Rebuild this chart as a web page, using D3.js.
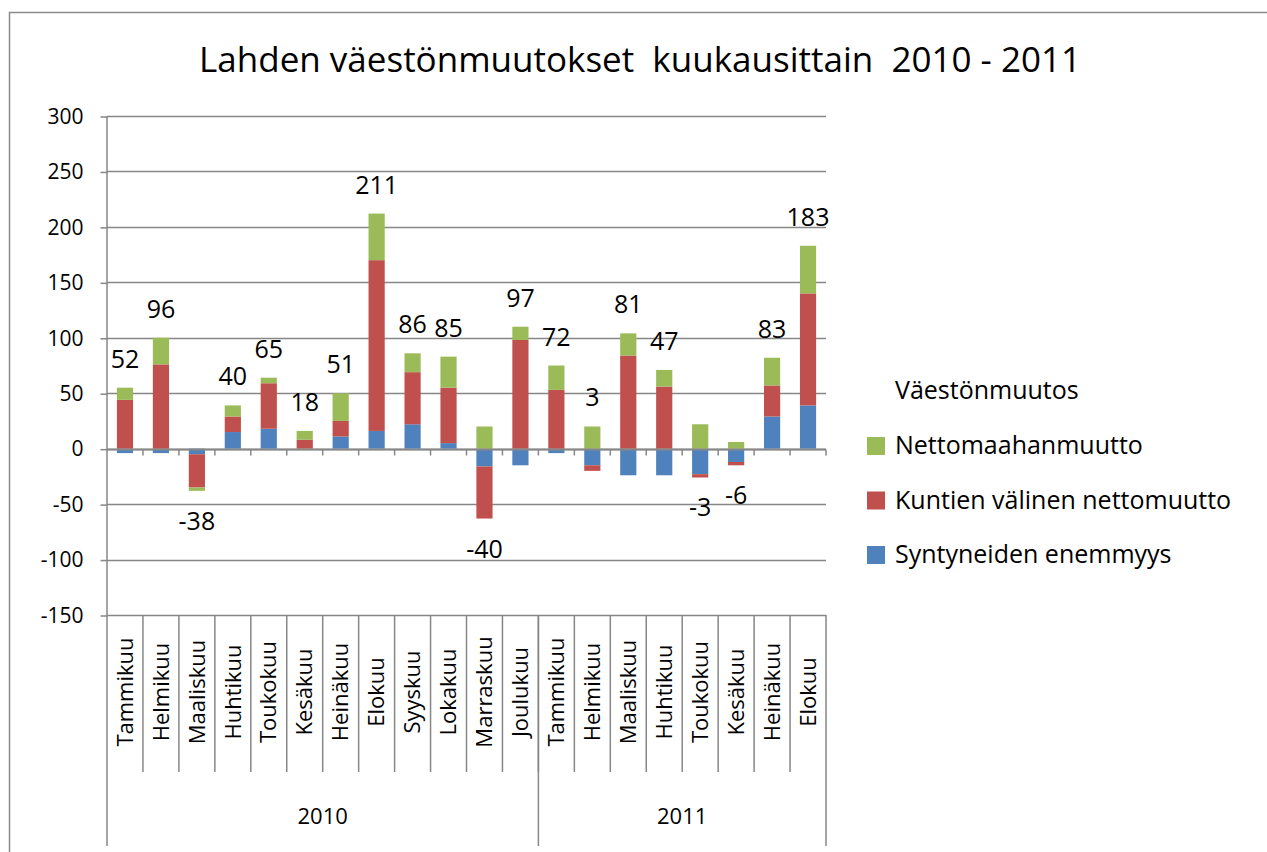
<!DOCTYPE html>
<html>
<head>
<meta charset="utf-8">
<script src="https://cdn.jsdelivr.net/npm/d3@7"></script>
<style>
  html, body { margin: 0; padding: 0; background: #fff; }
  svg { display: block; font-family: "Open Sans", sans-serif; }
  text { fill: #000; }
</style>
</head>
<body>
<svg id="chart" width="1267" height="852"></svg>
<script>
// Data
var months = ['Tammikuu', 'Helmikuu', 'Maaliskuu', 'Huhtikuu', 'Toukokuu', 'Kesäkuu',
              'Heinäkuu', 'Elokuu', 'Syyskuu', 'Lokakuu', 'Marraskuu', 'Joulukuu',
              'Tammikuu', 'Helmikuu', 'Maaliskuu', 'Huhtikuu', 'Toukokuu', 'Kesäkuu',
              'Heinäkuu', 'Elokuu'];
var years = [{ label: '2010', count: 12 }, { label: '2011', count: 8 }];

var syntyneet = [-4, -4, -5, 15, 18, 0, 11, 16, 22, 5, -16, -15, -4, -15, -24, -24, -23, -12, 29, 39];
var kuntienValinen = [44, 76, -30, 14, 41, 8, 14, 154, 47, 50, -47, 98, 53, -5, 84, 56, -3, -3, 28, 101];
var nettomaahanmuutto = [11, 24, -3, 10, 5, 8, 25, 42, 17, 28, 20, 12, 22, 20, 20, 15, 22, 6, 25, 43];
var totals = [52, 96, -38, 40, 65, 18, 51, 211, 86, 85, -40, 97, 72, 3, 81, 47, -3, -6, 83, 183];

var yTicks = [-150, -100, -50, 0, 50, 100, 150, 200, 250, 300];

var SERIES = [
    { key: 'syn', name: 'Syntyneiden enemmyys', color: '#4F81BD', values: syntyneet },
    { key: 'kun', name: 'Kuntien välinen nettomuutto', color: '#C0504D', values: kuntienValinen },
    { key: 'net', name: 'Nettomaahanmuutto', color: '#9BBB59', values: nettomaahanmuutto }
];

var AXIS_COLOR = '#878787';
var svg = d3.select('#chart');

// outer frame (left and top edges visible)
svg.append('path')
    .attr('d', 'M9.5,852 L9.5,12.5 L1267,12.5')
    .attr('fill', 'none').attr('stroke', '#8a8a8a').attr('stroke-width', 1.5);

// title
svg.append('text')
    .attr('x', 640).attr('y', 72)
    .attr('text-anchor', 'middle')
    .style('font-size', '35px')
    .style('white-space', 'pre')
    .text('Lahden väestönmuutokset  kuukausittain  2010 - 2011');

// scales
var plot = { left: 107, right: 826, top: 116, bottom: 615 };
var idx = months.map(function(m, i) { return i; });
var x = d3.scaleBand().domain(idx).range([plot.left, plot.right]).padding(0);
var y = d3.scaleLinear().domain([-150, 300]).range([plot.bottom, plot.top]);
var barW = x.bandwidth() * 0.45;

// gridlines
svg.append('g').selectAll('line').data(yTicks).enter().append('line')
    .attr('x1', plot.left).attr('x2', plot.right)
    .attr('y1', function(d) { return Math.round(y(d)) + 0.5; })
    .attr('y2', function(d) { return Math.round(y(d)) + 0.5; })
    .attr('stroke', AXIS_COLOR).attr('stroke-width', 1.5);

// y axis (plain hyphen minus like the original)
var yAxis = svg.append('g')
    .attr('transform', 'translate(' + (plot.left + 0.5) + ',0.5)')
    .call(d3.axisLeft(y).tickValues(yTicks).tickSize(7).tickPadding(17)
        .tickFormat(function(d) { return String(d); }));
yAxis.select('.domain').remove();
yAxis.selectAll('line').attr('stroke', AXIS_COLOR).attr('stroke-width', 1.5);
yAxis.selectAll('text')
    .style('font-family', '"Open Sans", sans-serif')
    .style('font-size', '21px').attr('fill', '#000');

// stacked bars (positive up, negative down, like Excel)
var table = idx.map(function(i) {
    var row = { i: i };
    SERIES.forEach(function(s) { row[s.key] = s.values[i]; });
    return row;
});
var stack = d3.stack().keys(SERIES.map(function(s) { return s.key; }))
    .offset(d3.stackOffsetDiverging)(table);

svg.append('g').selectAll('g').data(stack).enter().append('g')
    .attr('fill', function(d, k) { return SERIES[k].color; })
    .selectAll('rect').data(function(d) { return d; }).enter().append('rect')
    .attr('x', function(d) { return x(d.data.i) + (x.bandwidth() - barW) / 2; })
    .attr('width', barW)
    .attr('y', function(d) { return y(Math.max(d[0], d[1])); })
    .attr('height', function(d) { return Math.abs(y(d[0]) - y(d[1])); });

// zero axis line with tick marks
var zeroY = Math.round(y(0)) + 0.5;
svg.append('line')
    .attr('x1', plot.left).attr('x2', plot.right)
    .attr('y1', zeroY).attr('y2', zeroY)
    .attr('stroke', AXIS_COLOR).attr('stroke-width', 2);
svg.append('g').selectAll('line').data(idx.slice(1).concat([idx.length])).enter().append('line')
    .attr('x1', function(i) { return plot.left + i * x.step(); })
    .attr('x2', function(i) { return plot.left + i * x.step(); })
    .attr('y1', zeroY).attr('y2', zeroY + 6)
    .attr('stroke', AXIS_COLOR).attr('stroke-width', 1.5);

// total labels
var posTop = idx.map(function(i) {
    var s = 0;
    SERIES.forEach(function(se) { if (se.values[i] > 0) s += se.values[i]; });
    return s;
});
var negBottom = idx.map(function(i) {
    var s = 0;
    SERIES.forEach(function(se) { if (se.values[i] < 0) s += se.values[i]; });
    return s;
});
svg.append('g').selectAll('text').data(idx).enter().append('text')
    .attr('x', function(i) { return x(i) + x.bandwidth() / 2; })
    .attr('y', function(i) {
        return totals[i] >= 0 ? y(posTop[i]) - 20 : y(negBottom[i]) + 39;
    })
    .attr('text-anchor', 'middle')
    .style('font-size', '25px')
    .text(function(i) { return totals[i]; });

// category label table
var catG = svg.append('g');
catG.selectAll('line.sep').data(d3.range(1, months.length)).enter().append('line')
    .attr('x1', function(i) { return plot.left + i * x.step(); })
    .attr('x2', function(i) { return plot.left + i * x.step(); })
    .attr('y1', plot.bottom).attr('y2', 772)
    .attr('stroke', AXIS_COLOR).attr('stroke-width', 1.5);

var yearBounds = [0];
years.forEach(function(yr) { yearBounds.push(yearBounds[yearBounds.length - 1] + yr.count); });
catG.selectAll('line.year').data(yearBounds).enter().append('line')
    .attr('x1', function(i) { return plot.left + i * x.step(); })
    .attr('x2', function(i) { return plot.left + i * x.step(); })
    .attr('y1', function(i) { return i === 0 ? plot.top : plot.bottom; })
    .attr('y2', 846)
    .attr('stroke', AXIS_COLOR).attr('stroke-width', 1.5);

catG.selectAll('text.month').data(idx).enter().append('text')
    .attr('transform', function(i) {
        return 'translate(' + (x(i) + x.bandwidth() / 2) + ',692) rotate(-90)';
    })
    .attr('text-anchor', 'middle')
    .attr('dy', '0.35em')
    .style('font-size', '22px')
    .text(function(i) { return months[i]; });

catG.selectAll('text.year').data(years).enter().append('text')
    .attr('x', function(d, k) {
        return plot.left + (yearBounds[k] + yearBounds[k + 1]) / 2 * x.step();
    })
    .attr('y', 824)
    .attr('text-anchor', 'middle')
    .style('font-size', '22px')
    .text(function(d) { return d.label; });

// legend
var leg = svg.append('g');
leg.append('text').attr('x', 895).attr('y', 399)
    .style('font-size', '25px').text('Väestönmuutos');
var legendItems = SERIES.slice().reverse();
var item = leg.selectAll('g.item').data(legendItems).enter().append('g')
    .attr('transform', function(d, k) { return 'translate(0,' + (k * 54.5) + ')'; });
item.append('rect')
    .attr('x', 867).attr('y', 437).attr('width', 18).attr('height', 18)
    .attr('fill', function(d) { return d.color; });
item.append('text').attr('x', 895).attr('y', 454)
    .style('font-size', '25px').text(function(d) { return d.name; });
</script>
</body>
</html>
